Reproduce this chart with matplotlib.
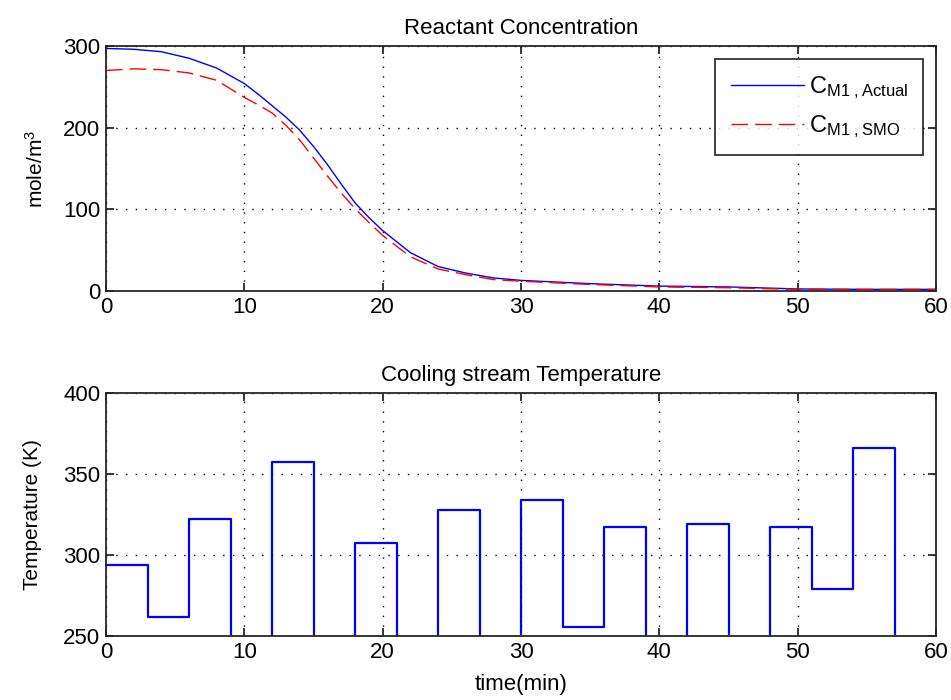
import matplotlib
matplotlib.use("Agg")
import matplotlib.pyplot as plt
import numpy as np

plt.rcParams['font.family'] = ['Liberation Sans', 'DejaVu Sans']
plt.rcParams['mathtext.fontset'] = 'custom'
plt.rcParams['mathtext.rm'] = 'Liberation Sans'
plt.rcParams['mathtext.it'] = 'Liberation Sans'

# ---- Data: Reactant concentration ----
t_conc = [0, 2, 4, 6, 8, 10, 11, 12, 13, 14, 15, 16, 17, 18, 19, 20, 22, 24, 26, 28, 30, 35, 40, 45, 50, 55, 60]
c_actual = [297, 296, 293, 285, 273, 254, 241, 227, 213, 197, 177, 155, 131, 108, 90, 74, 47, 30, 22, 16, 13, 9, 6, 5, 2.5, 2, 2]
c_smo = [270, 272, 271, 267, 258, 237, 228, 218, 203, 185, 163, 141, 120, 101, 84, 68, 42, 27, 20, 14, 12, 8, 5, 4, 2, 2, 2]

# ---- Data: Cooling stream temperature (piecewise constant, 3-min steps) ----
t_step = [0, 3, 6, 9, 12, 15, 18, 21, 24, 27, 30, 33, 36, 39, 42, 45, 48, 51, 54, 57, 60]
temp = [294, 262, 322.5, 240, 357.5, 240, 307.5, 240, 327.5, 240, 334, 255.5, 317, 240, 319, 240, 317, 279, 366, 240, 240]

xticks = [0, 10, 20, 30, 40, 50, 60]
yticks_top = [0, 100, 200, 300]
yticks_bot = [250, 300, 350, 400]

fig = plt.figure(figsize=(9.51, 7.0), dpi=100)
ax1 = fig.add_axes([106/951, 1-291/700, 830/951, 245/700])
ax2 = fig.add_axes([106/951, 1-636/700, 830/951, 243/700])

grid_kw = dict(color='black', linestyle=(0, (1, 6)), linewidth=1.0)

def style(ax):
    for s in ax.spines.values():
        s.set_linewidth(1.3)
        s.set_color('#262626')
    ax.tick_params(direction='in', top=True, right=True, length=6, width=1.3,
                   labelsize=16, pad=4, colors='#262626')
    ax.tick_params(labelcolor='black')
    ax.grid(True, **grid_kw)
    ax.set_axisbelow(True)

ax1.plot(t_conc, c_actual, color='#0000ff', lw=1.0, label=r'$\mathrm{C}_{\mathrm{M1\ ,Actual}}$')
ax1.plot(t_conc, c_smo, color='#ff0000', lw=1.0, dashes=(12, 5), label=r'$\mathrm{C}_{\mathrm{M1\ ,SMO}}$')
ax1.set_xlim(0, 60)
ax1.set_ylim(0, 300)
ax1.set_xticks(xticks)
ax1.set_yticks(yticks_top)
ax1.set_title('Reactant Concentration', fontsize=16, pad=9)
ax1.set_ylabel(r'mole/m$^3$', fontsize=15, labelpad=12)
style(ax1)
leg = ax1.legend(loc='upper right', bbox_to_anchor=(1, 1), borderaxespad=0.55,
                 fontsize=17, frameon=True, fancybox=False, handlelength=3.1,
                 handletextpad=0.2, borderpad=0.65,
                 edgecolor='black', labelspacing=0.5)
leg.get_frame().set_linewidth(1.3)

ax2.step(t_step, temp, where='post', color='#0000ff', lw=1.6)
ax2.set_xlim(0, 60)
ax2.set_ylim(250, 400)
ax2.set_xticks(xticks)
ax2.set_yticks(yticks_bot)
ax2.set_title('Cooling stream Temperature', fontsize=16, pad=9)
ax2.set_ylabel('Temperature (K)', fontsize=15, labelpad=15)
ax2.set_xlabel('time(min)', fontsize=16, labelpad=8)
style(ax2)

fig.savefig('out.png', dpi=100)
